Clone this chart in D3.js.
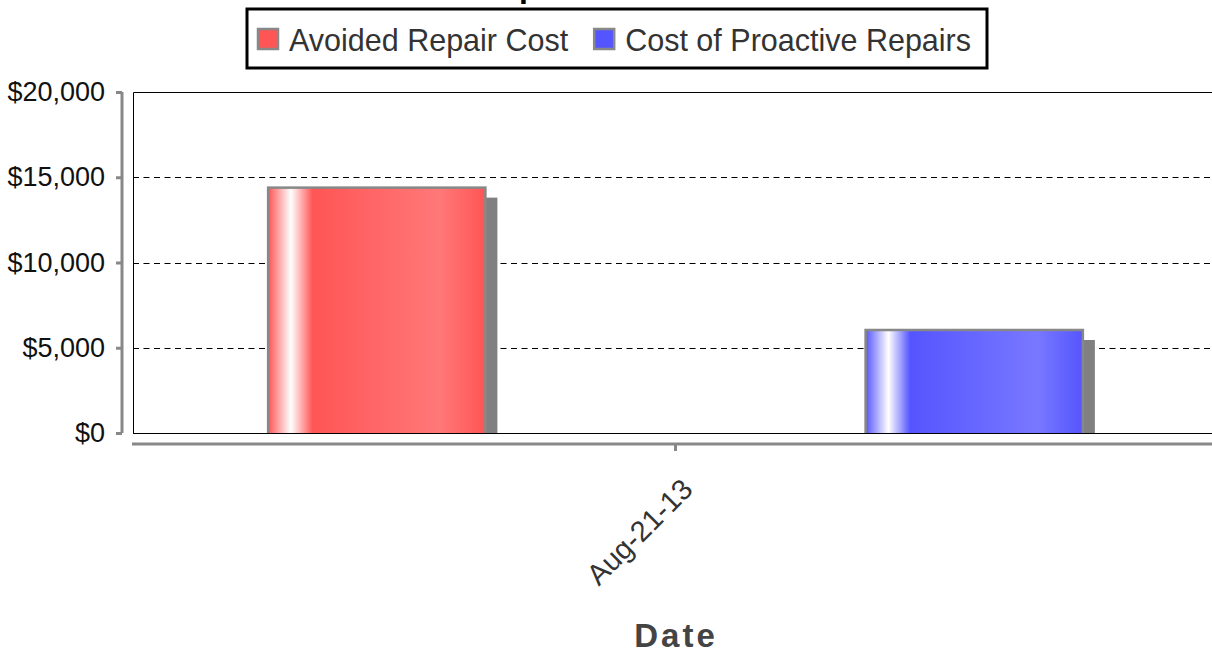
<!DOCTYPE html>
<html><head><meta charset="utf-8">
<script src="https://cdn.jsdelivr.net/npm/d3@7"></script>
<style>body{margin:0;background:#fff;overflow:hidden} svg{display:block;font-family:"Liberation Sans",Arial,Helvetica,sans-serif}</style>
</head><body><svg id="c" width="1212" height="653"></svg>
<script>
const categories = ["Aug-21-13"];
const seriesNames = ["Avoided Repair Cost", "Cost of Proactive Repairs"];
const avoidedRepairCost = [14450];
const costOfProactiveRepairs = [6100];
const yTicks = [0, 5000, 10000, 15000, 20000];
const titleText = "Repair Cost Avoidance";
const xAxisTitle = "Date";
const seriesColors = ["#ff5555", "#5555ff"];
const seriesLight = ["#ff7878", "#7878ff"];

const svg = d3.select("#c");
const plot = {left: 133, right: 1218, top: 92, bottom: 433};

const x0 = d3.scaleBand().domain(categories).range([plot.left, plot.right]).padding(0);
const x1 = d3.scaleBand().domain(seriesNames).range([0, x0.bandwidth()])
  .paddingInner(0.633).paddingOuter(0.2245);
const y = d3.scaleLinear().domain([0, 20000]).range([plot.bottom, plot.top]);

const defs = svg.append("defs");
seriesNames.forEach((s, i) => {
  const g = defs.append("linearGradient").attr("id", "g" + i).attr("x1", "0").attr("x2", "1").attr("y1", "0").attr("y2", "0");
  [[0, seriesColors[i]], [0.105, "#ffffff"], [0.205, seriesColors[i]], [0.79, seriesLight[i]], [1, seriesColors[i]]]
    .forEach(([o, c]) => g.append("stop").attr("offset", o).attr("stop-color", c));
});
defs.append("clipPath").attr("id", "pc").append("rect")
  .attr("x", plot.left).attr("y", plot.top).attr("width", plot.right - plot.left).attr("height", plot.bottom - plot.top);

// title (cut off at the top edge in the reference)
svg.append("text").attr("x", 478).attr("y", -3.5).attr("font-size", 32).attr("font-weight", "bold")
  .attr("fill", "#000").text(titleText);

// grid lines
svg.append("g").selectAll("line").data(yTicks.filter(t => t > 0 && t < 20000)).join("line")
  .attr("x1", plot.left).attr("x2", plot.right).attr("y1", d => Math.round(y(d)) + 0.5).attr("y2", d => Math.round(y(d)) + 0.5)
  .attr("stroke", "#000").attr("stroke-width", 1).attr("stroke-dasharray", "6,4.5");

// bars
const data = [avoidedRepairCost, costOfProactiveRepairs];
const bars = svg.append("g").attr("clip-path", "url(#pc)");
categories.forEach((c, ci) => {
  seriesNames.forEach((s, si) => {
    const v = data[si][ci];
    const bx = x0(c) + x1(s), bw = x1.bandwidth(), by = y(v), bh = y(0) - y(v);
    bars.append("rect").attr("x", bx + 11).attr("y", by + 11).attr("width", bw).attr("height", bh)
      .attr("fill", "#808080");
    bars.append("rect").attr("x", bx + 1).attr("y", by + 1).attr("width", bw - 2).attr("height", bh + 2)
      .attr("fill", "url(#g" + si + ")").attr("stroke", "#888").attr("stroke-width", 2.5);
  });
});

// plot frame
svg.append("path").attr("d", `M${plot.left + 0.5},${plot.bottom}V${plot.top + 0.5}H${plot.right}`)
  .attr("fill", "none").attr("stroke", "#000").attr("stroke-width", 1);
svg.append("line").attr("x1", plot.left).attr("x2", plot.right).attr("y1", plot.bottom + 0.5).attr("y2", plot.bottom + 0.5)
  .attr("stroke", "#000").attr("stroke-width", 1);

// y axis
const yAxis = d3.axisLeft(y).tickValues(yTicks).tickSize(6).tickPadding(11)
  .tickFormat(d => "$" + d3.format(",")(d));
const gy = svg.append("g").attr("transform", "translate(122,0)").call(yAxis);
gy.select(".domain").attr("stroke", "#888").attr("stroke-width", 3).attr("d", `M0,${plot.top}V${plot.bottom}`);
gy.selectAll(".tick line").attr("stroke", "#888").attr("stroke-width", 3);
gy.selectAll(".tick text").attr("font-size", 27).attr("fill", "#111").attr("font-family", null);

// x axis
const xAxis = d3.axisBottom(x0).tickSize(7).tickFormat(d => d);
const gx = svg.append("g").attr("transform", "translate(0,444)").call(xAxis);
gx.select(".domain").attr("stroke", "#888").attr("stroke-width", 3).attr("d", `M132,0H${plot.right}`);
gx.selectAll(".tick line").attr("stroke", "#888").attr("stroke-width", 3).attr("y1", 1);
gx.selectAll(".tick text").attr("font-size", 29).attr("fill", "#333").attr("font-family", null)
  .attr("text-anchor", "end").attr("dy", null).attr("y", 0)
  .attr("transform", "translate(19,47) rotate(-45)");

// x title
svg.append("text").attr("x", 676).attr("y", 647).attr("text-anchor", "middle")
  .attr("font-size", 33).attr("font-weight", "bold").attr("letter-spacing", 3).attr("fill", "#444").text(xAxisTitle);

// legend
const lg = svg.append("g");
let cx = 258;
seriesNames.forEach((s, i) => {
  lg.append("rect").attr("x", cx).attr("y", 29).attr("width", 20).attr("height", 20)
    .attr("fill", seriesColors[i]).attr("stroke", "#888").attr("stroke-width", 2.5);
  const t = lg.append("text").attr("x", cx + 31).attr("y", 51).attr("font-size", 30.5).attr("fill", "#333").text(s);
  cx = cx + 31 + t.node().getComputedTextLength() + 26;
});
lg.insert("rect", ":first-child").attr("x", 247).attr("y", 9).attr("width", cx - 26 + 16 - 247).attr("height", 59)
  .attr("fill", "#fff").attr("stroke", "#000").attr("stroke-width", 3);
</script></body></html>
